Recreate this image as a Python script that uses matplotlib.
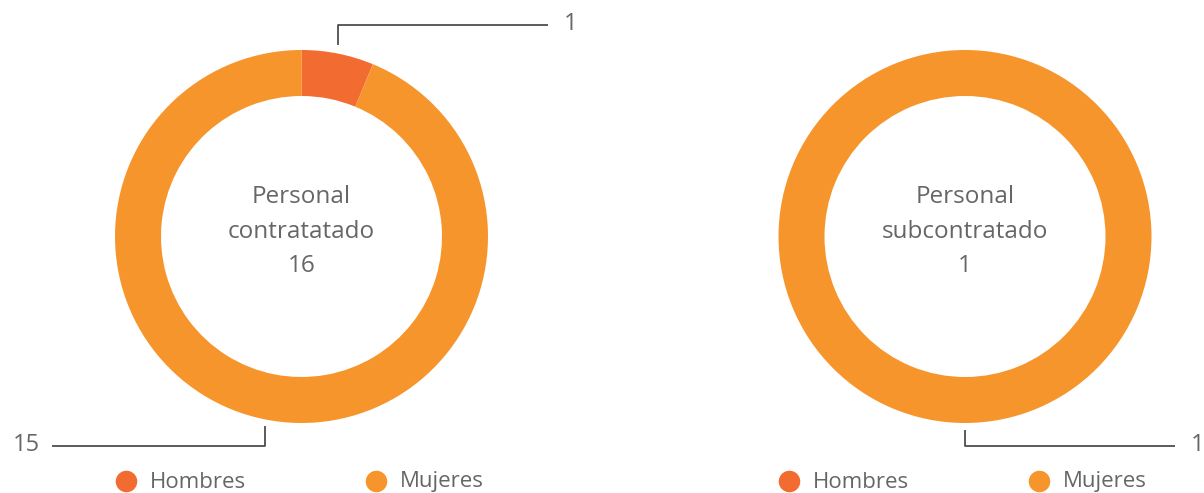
import numpy as np
import matplotlib
matplotlib.use("Agg")
import matplotlib.pyplot as plt

categories = ["Hombres", "Mujeres"]
contratado = [1, 15]
subcontratado = [0, 1]
titles = ["Personal\ncontratatado\n16", "Personal\nsubcontratado\n1"]
colors = ["#F26B30", "#F7952D"]
text_color = "#666666"
line_color = "#404040"

W, H = 1204, 493
fig = plt.figure(figsize=(W / 100, H / 100), dpi=100)
ax = fig.add_axes([0, 0, 1, 1])
plt.rcParams['font.family'] = ['Open Sans', 'DejaVu Sans']

R = 186.5
ring = 46
centers = [(301.5, H - 236.5), (965.0, H - 236.5)]
datasets = [contratado, subcontratado]

for (cx, cy), vals, title in zip(centers, datasets, titles):
    ax.pie(vals, colors=colors, radius=R, center=(cx, cy), startangle=90,
           counterclock=False, wedgeprops=dict(width=ring, edgecolor='none'),
           frame=True)
    ax.text(cx, cy + 5, title, ha='center', va='center', fontsize=17.5,
            color=text_color, linespacing=1.56)

    total = sum(vals)
    start = 90.0
    for i, v in enumerate(vals):
        if v == 0:
            continue
        span = 360.0 * v / total
        mid = np.deg2rad(start - span / 2)
        start -= span
        px = cx + R * np.cos(mid)
        py = cy + R * np.sin(mid)
        if np.sin(mid) > 0:
            y0 = py + 9
            y1 = H - 25
        else:
            y0 = py - 7
            y1 = H - 446
        if np.sin(mid) < 0 and cx < W / 2:
            xend = 52
        else:
            xend = min(px + 210, W - 29)
        ax.plot([px, px, xend], [y0, y1, y1], color=line_color, lw=1.2,
                solid_capstyle='butt')
        if xend > px:
            ax.text(xend + 16, y1 + 1, str(v), ha='left', va='center',
                    fontsize=17, color=text_color)
        else:
            ax.text(xend - 12, y1 + 1, str(v), ha='right', va='center',
                    fontsize=17, color=text_color)

    lx = cx - 176
    for j, cat in enumerate(categories):
        mx = lx + j * 250
        ax.plot([mx], [H - 481], marker='o', markersize=15.5, color=colors[j],
                markeredgewidth=0)
        ax.text(mx + 24, H - 482, cat, ha='left', va='center', fontsize=16,
                color=text_color)

ax.set_xlim(0, W)
ax.set_ylim(0, H)
ax.set_aspect('auto')
ax.axis('off')
fig.savefig("out.png", dpi=100)
